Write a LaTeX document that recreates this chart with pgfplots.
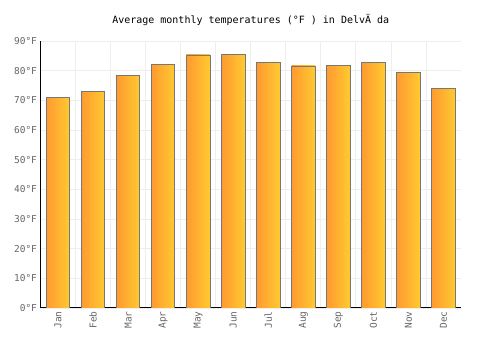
\documentclass[border=0pt]{standalone}
\usepackage{fontspec}
\setmainfont{DejaVu Sans Mono}
\usepackage{pgfplots}
\pgfplotsset{compat=1.18}
\definecolor{gridc}{HTML}{EEEEEE}
\definecolor{tickc}{HTML}{666666}
\definecolor{barl}{HTML}{FF9A30}
\definecolor{barr}{HTML}{FFCA30}
\definecolor{bard}{HTML}{777777}
\pgfplotsset{mybar/.style={ybar, bar width=23.5pt, left color=barl, right color=barr, draw=bard, line width=0.8pt}}
\begin{document}
\begin{tikzpicture}[x=1pt,y=1pt]
\path[use as bounding box] (-40.5,-42) rectangle (459.5,308);
\begin{axis}[
  at={(0,0)}, anchor=south west,
  scale only axis, width=420.5pt, height=267pt,
  xmin=-0.5, xmax=11.5, ymin=0, ymax=90,
  xtick={0,...,11},
  xticklabels={Jan,Feb,Mar,Apr,May,Jun,Jul,Aug,Sep,Oct,Nov,Dec},
  minor xtick={0.5,1.5,...,10.5},
  ytick={0,10,...,90},
  yticklabel={\pgfmathprintnumber{\tick}°F},
  /pgf/number format/assume math mode=true,
  xticklabel style={rotate=90, anchor=east, font=\fontsize{9.5}{11}\selectfont, text=tickc},
  yticklabel style={font=\fontsize{9.5}{11}\selectfont, text=tickc},
  xmajorgrids=false, xminorgrids=true, ymajorgrids=true,
  grid style={gridc, line width=0.8pt},
  minor grid style={gridc, line width=0.8pt},
  axis x line*=bottom, axis y line*=left,
  axis line style={black, line width=1pt},
  major tick length=0pt, minor tick length=0pt,
  tick style={draw=none},
  title={Average monthly temperatures (°F ) in DelvÄ da},
  title style={font=\fontsize{10}{12}\selectfont, yshift=6pt},
]
\addplot[mybar] coordinates {(0,71.1)};
\addplot[mybar] coordinates {(1,73.1)};
\addplot[mybar] coordinates {(2,78.5)};
\addplot[mybar] coordinates {(3,82.2)};
\addplot[mybar] coordinates {(4,85.3)};
\addplot[mybar] coordinates {(5,85.6)};
\addplot[mybar] coordinates {(6,82.9)};
\addplot[mybar] coordinates {(7,81.6)};
\addplot[mybar] coordinates {(8,81.9)};
\addplot[mybar] coordinates {(9,82.9)};
\addplot[mybar] coordinates {(10,79.5)};
\addplot[mybar] coordinates {(11,74.1)};
\end{axis}
\end{tikzpicture}
\end{document}
